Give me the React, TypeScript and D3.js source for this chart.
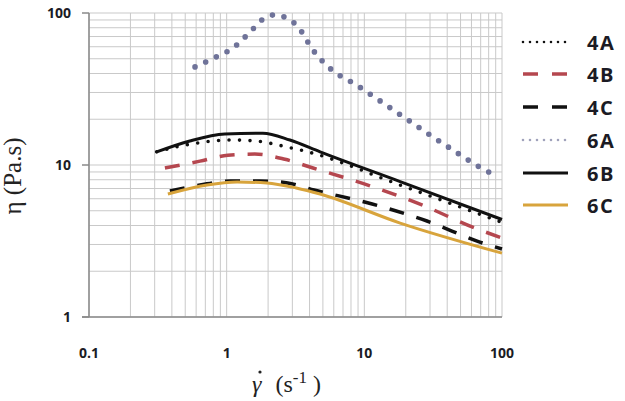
import React from "react";
import * as d3 from "d3";

const xTickLabels = ["0.1", "1", "10", "100"];
const yTickLabels = ["1", "10", "100"];
const xTicks = [0.1, 1, 10, 100];
const yTicks = [1, 10, 100];

const s4A: [number, number][] = [
  [0.31, 12.2], [0.54, 13.7], [1.11, 14.6], [1.6, 14.4], [2.78, 13.1], [3.89, 12.2], [18.2, 7.38], [100, 4.19],
];
const s4B: [number, number][] = [
  [0.356, 9.55], [0.64, 10.6], [1.02, 11.6], [1.6, 11.8], [2.65, 10.9], [4.24, 9.55], [10.6, 7.38], [26.2, 5.46], [63.5, 3.85], [100, 3.31],
];
const s4C: [number, number][] = [
  [0.387, 6.74], [0.64, 7.38], [1.06, 7.85], [1.74, 7.85], [2.78, 7.62], [4.31, 6.85], [11.4, 5.54], [28.5, 4.28], [69, 3.11], [100, 2.8],
];
const s6A: [number, number][] = [
  [0.589, 44.2], [0.894, 52.9], [1.09, 58.0], [1.29, 66.4], [1.53, 77.3], [1.8, 89.9], [2.2, 97], [2.73, 92.7], [3.3, 80.9], [4.24, 57.0], [5.81, 42.2], [8.53, 34.1], [18.4, 21.3], [39.8, 13.3], [85.9, 8.73], [95, 8.4],
];
const s6B: [number, number][] = [
  [0.31, 12.2], [0.54, 14.4], [0.97, 16.0], [1.83, 16.2], [2.88, 14.6], [4.77, 12.2], [18.2, 7.78], [100, 4.38],
];
const s6C: [number, number][] = [
  [0.374, 6.44], [0.72, 7.38], [1.19, 7.73], [1.96, 7.62], [3.2, 7.06], [4.77, 6.44], [18.2, 4.15], [100, 2.63],
];

const seriesNames = ["4A", "4B", "4C", "6A", "6B", "6C"];
const seriesData = [s4A, s4B, s4C, s6A, s6B, s6C];

const styles = [
  { color: "#111", width: 3.6, dash: "0 10.5", cap: "round", legDash: "0 7", legWidth: 2.6 },
  { color: "#b5474f", width: 3.5, dash: "15 13", cap: "butt", legDash: "15 14", legWidth: 3.5 },
  { color: "#111", width: 3.5, dash: "15 13", cap: "butt", legDash: "15 14", legWidth: 3.5 },
  { color: "#6f7399", width: 5.6, dash: "0 11.8", cap: "round", legDash: "0 7", legWidth: 2.6, legColor: "#a0a2bb" },
  { color: "#111", width: 3, dash: null, cap: "butt", legDash: null, legWidth: 3 },
  { color: "#d8a43c", width: 3, dash: null, cap: "butt", legDash: null, legWidth: 3 },
];

export default function App() {
  const W = 625, H = 401;
  const x = d3.scaleLog().domain([0.1, 100]).range([89, 502]);
  const y = d3.scaleLog().domain([1, 100]).range([317, 13]);
  const line = d3
    .line<[number, number]>()
    .x((d) => x(d[0]))
    .y((d) => y(d[1]))
    .curve(d3.curveMonotoneX);

  const gx = x.ticks();
  const gy = y.ticks();
  const lab = { fontFamily: "'Open Sans', Lato, sans-serif", fontWeight: 700, fill: "#1b1b24" } as const;
  const legendY = [42, 74, 107, 140, 173, 205];
  const serif = "'Liberation Serif', 'DejaVu Serif', serif";

  return (
    <div style={{ position: "absolute", left: 0, top: 0 }}>
      <svg width={W} height={H} style={{ display: "block", background: "#fff" }}>
        {gx.map((v, i) => (
          <line key={"gx" + i} x1={x(v)} x2={x(v)} y1={y(100)} y2={y(1)} stroke="#c9c9c9" strokeWidth={1} />
        ))}
        {gy.map((v, i) => (
          <line key={"gy" + i} x1={x(0.1)} x2={x(100)} y1={y(v)} y2={y(v)} stroke="#c9c9c9" strokeWidth={1} />
        ))}
        <line x1={x(0.1)} x2={x(0.1)} y1={y(100)} y2={y(1)} stroke="#8a8a8a" strokeWidth={1.5} />
        <line x1={x(0.1) - 7} x2={x(100)} y1={y(1)} y2={y(1)} stroke="#8a8a8a" strokeWidth={1.5} />
        {yTicks.map((v, i) => (
          <line key={"yt" + i} x1={x(0.1) - 7} x2={x(0.1)} y1={y(v)} y2={y(v)} stroke="#8a8a8a" strokeWidth={1.5} />
        ))}
        {yTicks.map((v, i) => (
          <text key={"yl" + i} x={71} y={y(v) + 5} textAnchor="end" fontSize={14} {...lab}>
            {yTickLabels[i]}
          </text>
        ))}
        {xTicks.map((v, i) => (
          <text key={"xl" + i} x={x(v)} y={358} textAnchor="middle" fontSize={14} {...lab}>
            {xTickLabels[i]}
          </text>
        ))}
        {seriesData.map((d, i) => {
          const s = styles[i];
          return (
            <path
              key={"s" + i}
              d={line(d) || ""}
              fill="none"
              stroke={s.color}
              strokeWidth={s.width}
              strokeDasharray={s.dash || undefined}
              strokeLinecap={s.cap as any}
            />
          );
        })}
        {seriesNames.map((n, i) => {
          const s = styles[i];
          return (
            <g key={"lg" + i}>
              <line
                x1={523}
                x2={568}
                y1={legendY[i]}
                y2={legendY[i]}
                stroke={(s as any).legColor || s.color}
                strokeWidth={s.legWidth}
                strokeDasharray={s.legDash || undefined}
                strokeLinecap={s.cap as any}
              />
              <text x={587} y={legendY[i] + 7.5} fontSize={20} letterSpacing={1.5} {...lab}>
                {n}
              </text>
            </g>
          );
        })}
        <text
          transform="translate(21,176) rotate(-90)"
          textAnchor="middle"
          fontSize={25}
          fontFamily={serif}
          fill="#222"
        >
          η (Pa.s)
        </text>
        <text x={252} y={392} fontSize={24} fontFamily={serif} fill="#222">
          <tspan fontStyle="italic">γ</tspan>
          <tspan dx={14}>(s</tspan>
          <tspan dy={-9} fontSize={17}>-1</tspan>
          <tspan dy={9}> )</tspan>
        </text>
        <circle cx={260} cy={372} r={1.6} fill="#222" />
      </svg>
    </div>
  );
}
